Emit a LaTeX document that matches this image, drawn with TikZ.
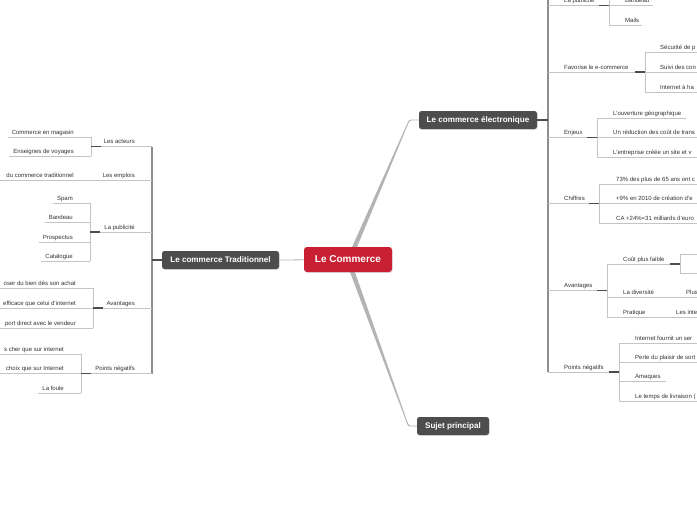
\documentclass[tikz,border=0pt]{standalone}
\usepackage{fontspec}
\setmainfont{Liberation Sans}
\usetikzlibrary{calc,shadows}
\definecolor{redc}{HTML}{C81F32}
\definecolor{darkc}{HTML}{4D4D4D}
\definecolor{linec}{HTML}{C4C4C4}
\definecolor{trunkc}{HTML}{8E8E8E}
\definecolor{connc}{HTML}{B3B3B3}
\definecolor{txtc}{HTML}{333333}
\tikzset{
  lbl/.style={font=\fontsize{6}{7}\selectfont, text=txtc, inner sep=0pt},
  ul/.style={draw=linec, line width=0.7pt},
  br/.style={draw=linec, line width=0.8pt},
  trunk/.style={draw=trunkc, line width=1.1pt},
  knot/.style={draw=darkc, line width=1.2pt},
  topic/.style={fill=darkc, text=white, rounded corners=2.5pt,
    font=\bfseries\fontsize{8.1}{9}\selectfont, minimum height=18pt, inner sep=0pt,
    drop shadow={opacity=0.25, shadow xshift=0.6pt, shadow yshift=-0.9pt}},
  central/.style={fill=redc, text=white, rounded corners=3pt,
    font=\bfseries\fontsize{10}{11}\selectfont, minimum height=25pt, minimum width=88pt, inner sep=0pt,
    drop shadow={opacity=0.25, shadow xshift=0.6pt, shadow yshift=-0.9pt}}
}
\begin{document}
\begin{tikzpicture}[x=1pt,y=-1pt]
\useasboundingbox (0,0) rectangle (697,520);
\clip (0,0) rectangle (697,520);
\fill[white] (0,0) rectangle (697,520);

% ---------- main topics ----------
\node[topic, minimum width=117pt] (trad) at (220.5,260) {Le commerce Traditionnel};
\node[topic, minimum width=118pt] (elec) at (478,120) {Le commerce électronique};
\node[topic, minimum width=72pt] (sujet) at (453,426) {Sujet principal};
\path (348,259.5) coordinate (rootc);

% connectors from root
\draw[connc, line width=0.8pt] (rootc) -- (trad.east);
\fill[connc] ($(rootc)+(3,-10)$) -- ($(elec.west)+(-11.5,3.5)$)
   .. controls ($(elec.west)+(-9.8,-0.4)$) .. ($(elec.west)+(-5,-0.4)$)
   -- ($(elec.west)+(0,-0.4)$) -- ($(elec.west)+(0,0.4)$) -- ($(elec.west)+(-5,0.4)$)
   .. controls ($(elec.west)+(-9,0.4)$) .. ($(elec.west)+(-10.7,3.9)$)
   -- ($(rootc)+(8,-10)$) -- cycle;
\fill[connc] ($(rootc)+(1,10)$) -- ($(sujet.west)+(-10.5,-4.5)$)
   .. controls ($(sujet.west)+(-8.8,0.4)$) .. ($(sujet.west)+(-4,0.4)$)
   -- ($(sujet.west)+(0,0.4)$) -- ($(sujet.west)+(0,-0.4)$) -- ($(sujet.west)+(-4,-0.4)$)
   .. controls ($(sujet.west)+(-7.8,-0.4)$) .. ($(sujet.west)+(-9.7,-4.9)$)
   -- ($(rootc)+(6,10)$) -- cycle;
\node[central] (root) at (rootc) {Le Commerce};

% ================= LEFT TREE =================
\coordinate (Ltop) at (152,146.5);
\coordinate (Lbot) at (152,373.5);
\draw[trunk] (Ltop) -- (Lbot);
\draw[knot] (trad.west) -- (trad.west -| Ltop);

% Les acteurs
\coordinate (bAct) at (91,146.5);
\coordinate (cAct1) at (91,137);
\coordinate (cAct2) at (91,156);
\node[lbl, anchor=base east] (act) at (135,143.5) {Les acteurs};
\node[lbl, anchor=base east] (act1) at (74,134) {Commerce en magasin};
\node[lbl, anchor=base east] (act2) at (74,153) {Enseignes de voyages};
\draw[ul] (Ltop) -- (bAct);
\draw[br] (cAct1) -- (cAct2);
\draw[ul] (cAct1) -- ($(act1.west |- cAct1)+(-4,0)$);
\draw[ul] (cAct2) -- ($(act2.west |- cAct2)+(-4,0)$);
\draw[knot] (bAct) -- ++(10,0);

% Les emplois
\coordinate (bEmp) at (152,180);
\coordinate (eEmp) at (-5,180);
\node[lbl, anchor=base east] (emp) at (135,177) {Les emplois};
\node[lbl, anchor=base east] (emp1) at (74,177) {du commerce traditionnel};
\draw[ul] (bEmp) -- (eEmp);

% La publicite
\coordinate (bPub) at (90,232);
\coordinate (cPub1) at (90,203);
\coordinate (cPub2) at (90,222);
\coordinate (cPub3) at (90,242);
\coordinate (cPub4) at (90,261);
\node[lbl, anchor=base east] (pub) at (135,229) {La publicité};
\node[lbl, anchor=base east] (pub1) at (73,200) {Spam};
\node[lbl, anchor=base east] (pub2) at (73,219) {Bandeau};
\node[lbl, anchor=base east] (pub3) at (73,239) {Prospectus};
\node[lbl, anchor=base east] (pub4) at (73,258) {Catalogue};
\draw[ul] (Ltop |- bPub) -- (bPub);
\draw[br] (cPub1) -- (cPub4);
\draw[ul] (cPub1) -- ($(pub1.west |- cPub1)+(-4,0)$);
\draw[ul] (cPub2) -- ($(pub2.west |- cPub2)+(-4,0)$);
\draw[ul] (cPub3) -- ($(pub3.west |- cPub3)+(-4,0)$);
\draw[ul] (cPub4) -- ($(pub4.west |- cPub4)+(-4,0)$);
\draw[knot] (bPub) -- ++(10,0);

% Avantages (left)
\coordinate (bAv) at (93,308);
\coordinate (cAv1) at (93,288);
\coordinate (cAv3) at (93,328);
\node[lbl, anchor=base east] (av) at (135,305) {Avantages};
\node[lbl, anchor=base east] (av1) at (76,285) {oser du bien dès son achat};
\node[lbl, anchor=base east] (av2) at (76,305) {efficace que celui d'internet};
\node[lbl, anchor=base east] (av3) at (76,325) {port direct avec le vendeur};
\draw[ul] (Ltop |- bAv) -- (bAv);
\draw[br] (cAv1) -- (cAv3);
\draw[ul] (cAv1) -- (cAv1 -| eEmp);
\draw[ul] (bAv) -- (bAv -| eEmp);
\draw[ul] (cAv3) -- (cAv3 -| eEmp);
\draw[knot] (bAv) -- ++(10,0);

% Points negatifs (left)
\coordinate (bNeg) at (81,373.5);
\coordinate (cNeg1) at (81,354);
\coordinate (cNeg3) at (81,393);
\node[lbl, anchor=base east] (neg) at (135,370.5) {Points négatifs};
\node[lbl, anchor=base east] (neg1) at (64,351) {s cher que sur internet};
\node[lbl, anchor=base east] (neg2) at (64,370.5) {choix que sur Internet};
\node[lbl, anchor=base east] (neg3) at (64,390) {La foule};
\draw[ul] (Lbot) -- (bNeg);
\draw[br] (cNeg1) -- (cNeg3);
\draw[ul] (cNeg1) -- (cNeg1 -| eEmp);
\draw[ul] (bNeg) -- (bNeg -| eEmp);
\draw[ul] (cNeg3) -- ($(neg3.west |- cNeg3)+(-4,0)$);
\draw[knot] (bNeg) -- ++(10,0);

% ================= RIGHT TREE =================
\coordinate (Rtop) at (548,-10);
\coordinate (Rbot) at (548,372);
\coordinate (Rend) at (705,0);
\draw[trunk] (Rtop) -- (Rbot);
\draw[knot] (elec.east) -- (elec.east -| Rbot);

% La publicite (right, top)
\coordinate (bRp) at (609,5.5);
\coordinate (cRp0) at (609,-14);
\coordinate (cRp2) at (609,25);
\node[lbl, anchor=base west] (rp) at (564,2.5) {La publicité};
\node[lbl, anchor=base west] (rp1) at (625,2.5) {Bandeau};
\node[lbl, anchor=base west] (rp2) at (625,22) {Mails};
\draw[ul] (Rtop |- bRp) -- (bRp);
\draw[br] (cRp0) -- (cRp2);
\draw[ul] (bRp) -- ($(rp1.east |- bRp)+(4,0)$);
\draw[ul] (cRp2) -- ($(rp2.east |- cRp2)+(3,0)$);
\draw[knot] (bRp) -- ++(-10,0);

% Favorise le e-commerce
\coordinate (bFav) at (645,72);
\coordinate (cFav1) at (645,52);
\coordinate (cFav3) at (645,92);
\node[lbl, anchor=base west] (fav) at (564,69) {Favorise le e-commerce};
\node[lbl, anchor=base west] (fav1) at (660,49) {Sécurité de p};
\node[lbl, anchor=base west] (fav2) at (660,69) {Suivi des con};
\node[lbl, anchor=base west] (fav3) at (660,89) {Internet à ha};
\draw[ul] (Rtop |- bFav) -- (bFav);
\draw[br] (cFav1) -- (cFav3);
\draw[ul] (cFav1) -- (cFav1 -| Rend);
\draw[ul] (bFav) -- (bFav -| Rend);
\draw[ul] (cFav3) -- (cFav3 -| Rend);
\draw[knot] (bFav) -- ++(-10,0);

% Enjeux
\coordinate (bEnj) at (597,137.5);
\coordinate (cEnj1) at (597,118);
\coordinate (cEnj3) at (597,157);
\node[lbl, anchor=base west] (enj) at (564,134.5) {Enjeux};
\node[lbl, anchor=base west] (enj1) at (613,115) {L'ouverture géographique};
\node[lbl, anchor=base west] (enj2) at (613,134.5) {Un réduction des coût de trans};
\node[lbl, anchor=base west] (enj3) at (613,154) {L'entreprise créée un site et v};
\draw[ul] (Rtop |- bEnj) -- (bEnj);
\draw[br] (cEnj1) -- (cEnj3);
\draw[ul] (cEnj1) -- ($(enj1.east |- cEnj1)+(5,0)$);
\draw[ul] (bEnj) -- (bEnj -| Rend);
\draw[ul] (cEnj3) -- (cEnj3 -| Rend);
\draw[knot] (bEnj) -- ++(-10,0);

% Chiffres
\coordinate (bChi) at (599,203.5);
\coordinate (cChi1) at (599,184);
\coordinate (cChi3) at (599,223);
\node[lbl, anchor=base west] (chi) at (564,200.5) {Chiffres};
\node[lbl, anchor=base west] (chi1) at (616,181) {73\% des plus de 65 ans ont c};
\node[lbl, anchor=base west] (chi2) at (616,200.5) {+9\% en 2010 de création d'e};
\node[lbl, anchor=base west] (chi3) at (616,220) {CA +24\%=31 milliards d'euro};
\draw[ul] (Rtop |- bChi) -- (bChi);
\draw[br] (cChi1) -- (cChi3);
\draw[ul] (cChi1) -- (cChi1 -| Rend);
\draw[ul] (bChi) -- (bChi -| Rend);
\draw[ul] (cChi3) -- (cChi3 -| Rend);
\draw[knot] (bChi) -- ++(-10,0);

% Avantages (right)
\coordinate (bRav) at (607,290.5);
\coordinate (cRav1) at (607,264);
\coordinate (cRav2) at (607,297);
\coordinate (cRav3) at (607,317);
\coordinate (bCout) at (680,264);
\coordinate (cCout1) at (680,254.5);
\coordinate (cCout2) at (680,273.5);
\node[lbl, anchor=base west] (rav) at (564,287.5) {Avantages};
\node[lbl, anchor=base west] (rav1) at (623,261) {Coût plus faible};
\node[lbl, anchor=base west] (rav2) at (623,294) {La diversité};
\node[lbl, anchor=base west] (rav3) at (623,314) {Pratique};
\node[lbl, anchor=base west] (rav2a) at (686,294) {Plus};
\node[lbl, anchor=base west] (rav3a) at (676,314) {Les inte};
\draw[ul] (Rtop |- bRav) -- (bRav);
\draw[br] (cRav1) -- (cRav3);
\draw[ul] (cRav1) -- (bCout);
\draw[ul] (cRav2) -- (cRav2 -| Rend);
\draw[ul] (cRav3) -- (cRav3 -| Rend);
\draw[br] (cCout1) -- (cCout2);
\draw[ul] (cCout1) -- (cCout1 -| Rend);
\draw[ul] (cCout2) -- (cCout2 -| Rend);
\draw[knot] (bRav) -- ++(-10,0);
\draw[knot] (bCout) -- ++(-10,0);

% Points negatifs (right)
\coordinate (bRn) at (619,372);
\coordinate (cRn1) at (619,343);
\coordinate (cRn2) at (619,362);
\coordinate (cRn3) at (619,381);
\coordinate (cRn4) at (619,401);
\node[lbl, anchor=base west] (rn) at (564,369) {Points négatifs};
\node[lbl, anchor=base west] (rn1) at (635,340) {Internet fournit un ser};
\node[lbl, anchor=base west] (rn2) at (635,359) {Perte du plaisir de sort};
\node[lbl, anchor=base west] (rn3) at (635,378) {Amaques};
\node[lbl, anchor=base west] (rn4) at (635,398) {Le temps de livraison (};
\draw[ul] (Rbot) -- (bRn);
\draw[br] (cRn1) -- (cRn4);
\draw[ul] (cRn1) -- (cRn1 -| Rend);
\draw[ul] (cRn2) -- (cRn2 -| Rend);
\draw[ul] (cRn3) -- ($(rn3.east |- cRn3)+(5,0)$);
\draw[ul] (cRn4) -- (cRn4 -| Rend);
\draw[knot] (bRn) -- ++(-10,0);
\end{tikzpicture}
\end{document}
